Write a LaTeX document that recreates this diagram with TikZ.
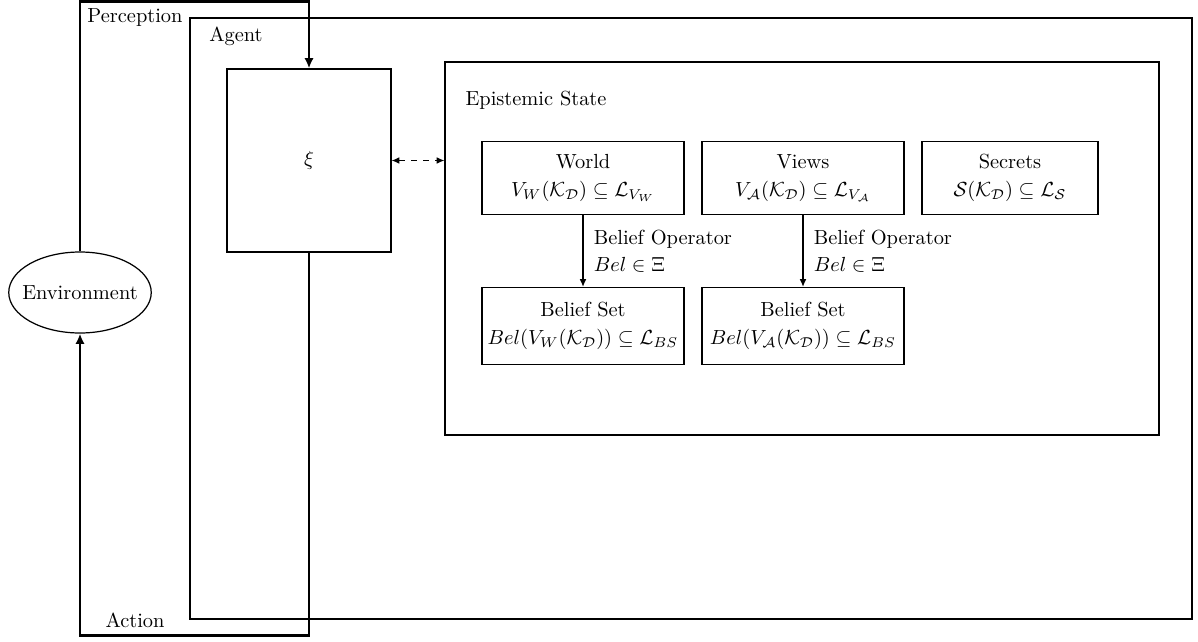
\documentclass[tikz,border=0pt]{standalone}
\usepackage{amsmath,amssymb}
\usetikzlibrary{arrows.meta,shapes.geometric}
\newdimen\pxu
\pxu=0.49pt
\begin{document}
\begin{tikzpicture}[x=0.49pt,y=-0.49pt, semithick,
  box/.style={draw, align=center, inner sep=1pt, minimum width=202*\pxu, minimum height=73*\pxu},
  bsbox/.style={draw, align=center, inner sep=1pt, minimum width=202*\pxu, minimum height=77*\pxu},
  loopline/.style={line width=1.45pt, -{Latex[length=5pt,width=4.5pt]}},
  thinarrow/.style={-{Latex[length=3.8pt,width=3.3pt]}},
  lbl/.style={inner sep=0pt}]
\useasboundingbox (0,0) rectangle (1198,641);
% agent box
\node[draw, minimum width=1002*\pxu, minimum height=601*\pxu, inner sep=0pt] (agent) at (691,318.5) {};
\node[lbl] (agentlbl) at (236,36) {Agent};
% epistemic state
\node[draw, minimum width=714*\pxu, minimum height=373*\pxu, inner sep=0pt] (es) at (802,248.5) {};
\node[lbl] (eslbl) at (536,100) {Epistemic State};
% xi
\node[draw, minimum width=164*\pxu, minimum height=183*\pxu, inner sep=0pt] (xi) at (309,160.5) {$\xi$};
% boxes
\node[box] (world) at (583,178) {World\\[1.5pt] $V_W(\mathcal{K}_\mathcal{D}) \subseteq \mathcal{L}_{V_W}$};
\node[box] (views) at (803,178) {Views\\[1.5pt] $V_\mathcal{A}(\mathcal{K}_\mathcal{D}) \subseteq \mathcal{L}_{V_\mathcal{A}}$};
\node[box, minimum width=176*\pxu] (secrets) at (1010,178) {Secrets\\[1.5pt] $\mathcal{S}(\mathcal{K}_\mathcal{D}) \subseteq \mathcal{L}_\mathcal{S}$};
\node[bsbox] (bs1) at (583,326) {Belief Set\\[1.5pt] $Bel(V_W(\mathcal{K}_\mathcal{D})) \subseteq \mathcal{L}_{BS}$};
\node[bsbox] (bs2) at (803,326) {Belief Set\\[1.5pt] $Bel(V_\mathcal{A}(\mathcal{K}_\mathcal{D})) \subseteq \mathcal{L}_{BS}$};
\draw[thinarrow] (world.south) -- node[right, align=left, inner sep=5pt] {Belief Operator\\[1.5pt] $Bel \in \Xi$} (bs1.north);
\draw[thinarrow] (views.south) -- node[right, align=left, inner sep=5pt] {Belief Operator\\[1.5pt] $Bel \in \Xi$} (bs2.north);
\draw[dashed, {Latex[length=3.8pt,width=3.3pt]}-{Latex[length=3.8pt,width=3.3pt]}] (xi.east) -- (xi.east -| es.west);
% environment
\node[draw, ellipse, inner xsep=-3.6pt, minimum height=81*\pxu] (env) at (80,292.5) {Environment};
% loop
\coordinate (tl) at (80,1.5);
\coordinate (tr) at (309,1.5);
\coordinate (br) at (309,635.5);
\coordinate (bl) at (80,635.5);
\draw[loopline] (env.north) -- (tl) -- (tr) -- (xi.north);
\draw[loopline] (xi.south) -- (br) -- (bl) -- (env.south);
\node[lbl] (perc) at (135,18) {Perception};
\node[lbl] (act) at (135,620) {Action};
\end{tikzpicture}
\end{document}
